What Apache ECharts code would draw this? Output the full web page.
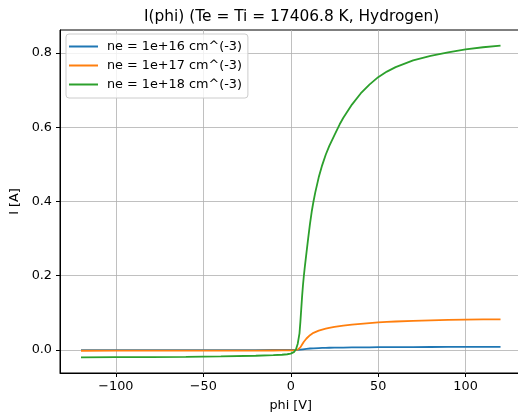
<!DOCTYPE html>
<html>
<head>
<meta charset="utf-8">
<script src="https://cdn.jsdelivr.net/npm/echarts@6/dist/echarts.min.js"></script>
<style>
html,body{margin:0;padding:0;background:#fff;}
#chart{width:518px;height:419px;}
</style>
</head>
<body>
<div id="chart"></div>
<script>
const phi = [-120,-100,-80,-60,-40,-20,-10,-5,-2,0,1,2,3,4,5,5.5,6,6.5,7,7.5,8,9,10,11,12,13,14,16,18,20,22,25,28,30,35,40,45,50,55,60,70,80,90,100,110,120];
const current16 = [-0.0002,-0.0002,-0.0002,-0.0002,-0.0002,-0.0002,-0.0001,-0.0001,-0.0001,-0.0001,-0.0001,-0.0001,0.0000,0.0001,0.0004,0.0007,0.0011,0.0015,0.0019,0.0022,0.0025,0.0031,0.0036,0.0040,0.0044,0.0046,0.0049,0.0052,0.0055,0.0058,0.0060,0.0062,0.0064,0.0066,0.0069,0.0071,0.0073,0.0075,0.0076,0.0077,0.0079,0.0081,0.0082,0.0083,0.0083,0.0084];
const current17 = [-0.0020,-0.0019,-0.0019,-0.0018,-0.0017,-0.0016,-0.0014,-0.0013,-0.0012,-0.0010,-0.0008,-0.0005,0.0000,0.0008,0.0040,0.0070,0.0105,0.0145,0.0185,0.0220,0.0250,0.0310,0.0360,0.0400,0.0435,0.0462,0.0485,0.0520,0.0550,0.0574,0.0595,0.0620,0.0642,0.0655,0.0683,0.0706,0.0726,0.0742,0.0756,0.0767,0.0785,0.0799,0.0809,0.0817,0.0823,0.0827];
const current18 = [-0.0197,-0.0194,-0.0190,-0.0183,-0.0172,-0.0155,-0.0140,-0.0128,-0.0115,-0.0098,-0.0082,-0.0050,0.0020,0.0170,0.0450,0.075,0.110,0.145,0.175,0.200,0.222,0.262,0.302,0.340,0.373,0.400,0.424,0.465,0.498,0.526,0.549,0.579,0.608,0.625,0.661,0.691,0.715,0.735,0.750,0.762,0.780,0.792,0.802,0.810,0.8155,0.820];
const seriesNames = ['ne = 1e+16 cm^(-3)','ne = 1e+17 cm^(-3)','ne = 1e+18 cm^(-3)'];
const xTicks = [-100,-50,0,50,100];
const yTicks = [0,0.2,0.4,0.6,0.8];
const titleText = 'I(phi) (Te = Ti = 17406.8 K, Hydrogen)';
const xName = 'phi [V]';
const yName = 'I [A]';

const colors = ['#1f77b4','#ff7f0e','#2ca02c'];
const font = 'DejaVu Sans';
const fs = 12.8;
const allSeries = [current16,current17,current18];

const chart = echarts.init(document.getElementById('chart'), null, {renderer:'canvas'});
const gridColor = '#b0b0b0';
const option = {
  animation:false,
  backgroundColor:'#fff',
  title:{
    text:titleText, left:139, top:4,
    textStyle:{fontFamily:font,fontSize:15.4,fontWeight:'normal',color:'#000'}
  },
  legend:{
    orient:'vertical', left:66, top:34,
    padding:[5,6,6,3],
    itemWidth:29, itemHeight:2, itemGap:4,
    icon:'rect',
    borderColor:'#cccccc', borderWidth:1, borderRadius:3,
    backgroundColor:'rgba(255,255,255,0.8)',
    textStyle:{fontFamily:font,fontSize:fs,color:'#000',lineHeight:15,padding:[0,0,0,4]},
    data:seriesNames
  },
  grid:{left:60, top:30, width:461.5, height:343, outerBoundsMode:'none', containLabel:false,
    show:true, borderColor:'#000', borderWidth:1, backgroundColor:'transparent'},
  xAxis:{
    type:'value', min:-132, max:132,
    name:xName, nameLocation:'middle', nameGap:26,
    nameTextStyle:{fontFamily:font,fontSize:fs,color:'#000'},
    axisLine:{show:true,onZero:false,lineStyle:{color:'#000',width:1}},
    axisTick:{show:true,inside:false,length:4,lineStyle:{color:'#000'},customValues:xTicks},
    axisLabel:{fontFamily:font,fontSize:fs,color:'#000',margin:7,customValues:xTicks,
      formatter:v=> v<0 ? '\u2212'+Math.abs(v) : String(v)},
    splitLine:{show:true,lineStyle:{color:gridColor,width:0.8}}
  },
  yAxis:{
    type:'value', min:-0.062, max:0.862,
    name:yName, nameLocation:'middle', nameGap:34, nameRotate:90,
    nameTextStyle:{fontFamily:font,fontSize:fs,color:'#000'},
    axisLine:{show:true,onZero:false,lineStyle:{color:'#000',width:1}},
    axisTick:{show:true,inside:false,length:4,lineStyle:{color:'#000'},customValues:yTicks},
    axisLabel:{fontFamily:font,fontSize:fs,color:'#000',margin:8,customValues:yTicks,
      formatter:v=> v.toFixed(1)},
    splitLine:{show:true,lineStyle:{color:gridColor,width:0.8}}
  },
  series: allSeries.map((arr,i)=>({
    name:seriesNames[i], type:'line',
    data:phi.map((p,j)=>[p,arr[j]]),
    showSymbol:false, symbol:'none',
    smooth:false,
    lineStyle:{color:colors[i],width:1.8},
    itemStyle:{color:colors[i]},
    z:2+i
  }))
};
chart.setOption(option);
</script>
</body>
</html>
